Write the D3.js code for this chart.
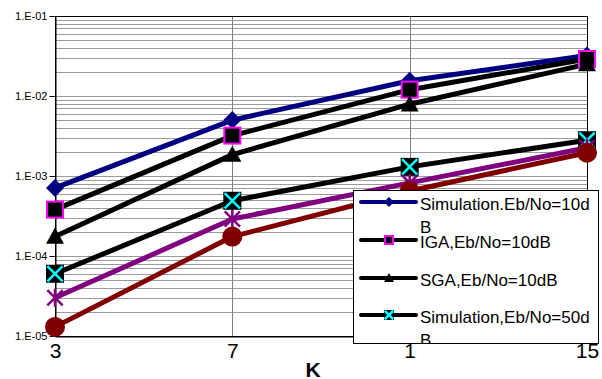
<!DOCTYPE html>
<html><head><meta charset="utf-8">
<script src="https://cdn.jsdelivr.net/npm/d3@7/dist/d3.min.js"></script>
<style>body{margin:0;background:#fff}svg{display:block;font-family:"Liberation Sans",Arial,sans-serif}</style>
</head><body><svg id="c" width="602" height="379"></svg>
<script>
const categories = ["3","7","1","15"];
const yTicks = [1e-5,1e-4,1e-3,1e-2,1e-1];
const simEb10 = [7.1e-4, 5.0e-3, 1.55e-2, 3.2e-2];
const igaEb10 = [3.8e-4, 3.2e-3, 1.2e-2, 2.9e-2];
const sgaEb10 = [1.75e-4, 1.85e-3, 7.9e-3, 2.5e-2];
const simEb50 = [6.0e-5, 4.9e-4, 1.3e-3, 2.8e-3];
const seriesE = [3.0e-5, 2.9e-4, 8.2e-4, 2.25e-3];
const seriesF = [1.3e-5, 1.75e-4, 6.5e-4, 1.95e-3];
const legendLabels = [["Simulation.Eb/No=10d","B"],["IGA,Eb/No=10dB"],["SGA,Eb/No=10dB"],["Simulation,Eb/No=50d","B"]];

const series = [
  {v:simEb10, color:"#000080", m:"diamond"},
  {v:igaEb10, color:"#000000", m:"squareM"},
  {v:sgaEb10, color:"#000000", m:"triangle"},
  {v:simEb50, color:"#000000", m:"xsq"},
  {v:seriesE, color:"#800080", m:"star"},
  {v:seriesF, color:"#800000", m:"circle"}
];

const svg = d3.select("#c");
const L=55,R=587,T=16,B=336;
const x = d3.scalePoint().domain(categories).range([L,R]);
const y = d3.scaleLog().domain([1e-5,1e-1]).range([B,T]);

// minor grid
const minor=[];
for(let e=-5;e<-1;e++){for(let k=2;k<=9;k++)minor.push(k*Math.pow(10,e));}
svg.append("g").selectAll("line").data(minor.concat(yTicks.slice(1,4))).join("line")
  .attr("x1",L).attr("x2",R).attr("y1",d=>Math.round(y(d))+0.5).attr("y2",d=>Math.round(y(d))+0.5)
  .attr("stroke","#9a9a9a").attr("stroke-width",1);
svg.append("g").selectAll("line").data(categories.slice(1,3)).join("line")
  .attr("x1",d=>Math.round(x(d))+0.5).attr("x2",d=>Math.round(x(d))+0.5).attr("y1",T).attr("y2",B)
  .attr("stroke","#808080");
svg.append("rect").attr("x",L+0.5).attr("y",T+0.5).attr("width",R-L).attr("height",B-T)
  .attr("fill","none").attr("stroke","#000");

// axes
const ya = svg.append("g").attr("transform",`translate(${L+0.5},0)`)
  .call(d3.axisLeft(y).tickValues(yTicks).tickSize(6).tickSizeOuter(0).tickPadding(2)
    .tickFormat(d=>"1.E-0"+Math.round(-Math.log10(d))));
ya.selectAll("text").attr("font-size",11).attr("fill","#000").attr("font-family","Liberation Sans, Arial");
ya.selectAll("line,path").attr("stroke","#000");
const xa = svg.append("g").attr("transform",`translate(0,${B+0.5})`)
  .call(d3.axisBottom(x).tickSize(0).tickSizeOuter(0).tickPadding(7));
xa.selectAll("text").attr("font-size",21).attr("fill","#000").attr("font-family","Liberation Sans, Arial");
xa.select("path").attr("stroke","#000");
svg.append("text").attr("x",313).attr("y",377).attr("text-anchor","middle")
  .attr("font-size",21).attr("font-weight","bold").text("K");

function marker(g, type, color, s){
  if(type==="diamond"){
    g.append("path").attr("d",`M0,${-s}L${s},0L0,${s}L${-s},0Z`).attr("fill",color);
  } else if(type==="squareM"){
    g.append("rect").attr("x",-s+1).attr("y",-s+1).attr("width",2*s-2).attr("height",2*s-2)
      .attr("fill","#000").attr("stroke","#ff00ff").attr("stroke-width",2);
  } else if(type==="triangle"){
    g.append("path").attr("d",`M0,${-s}L${s},${s*0.8}L${-s},${s*0.8}Z`).attr("fill","#000");
  } else if(type==="xsq"){
    g.append("rect").attr("x",-s).attr("y",-s).attr("width",2*s).attr("height",2*s).attr("fill","#000");
    const a=s*0.85;
    g.append("path").attr("d",`M${-a},${-a}L${a},${a}M${a},${-a}L${-a},${a}`).attr("stroke","#00ffff").attr("stroke-width",2.5);
  } else if(type==="star"){
    const a=s*0.85;
    g.append("path").attr("d",`M${-a},${-a}L${a},${a}M${a},${-a}L${-a},${a}M0,${-s}L0,${s}`).attr("stroke",color).attr("stroke-width",2.5);
  } else if(type==="circle"){
    g.append("circle").attr("r",s).attr("fill",color);
  }
}

const line = d3.line().x((d,i)=>x(categories[i])).y(d=>y(d));
series.forEach(sr=>{
  svg.append("path").datum(sr.v).attr("d",line).attr("fill","none")
    .attr("stroke",sr.color).attr("stroke-width",5).attr("stroke-linejoin","round");
});
series.forEach(sr=>{
  sr.v.forEach((v,i)=>{
    const g=svg.append("g").attr("transform",`translate(${x(categories[i])},${y(v)})`);
    marker(g, sr.m, sr.color, sr.m==="diamond"?9:(sr.m==="circle"?10:9));
  });
});

// legend
const lx=353.5, ly=190.5, lw=245, lh=153;
svg.append("clipPath").attr("id","lc").append("rect").attr("x",lx).attr("y",ly).attr("width",lw).attr("height",lh);
const lg = svg.append("g");
lg.append("rect").attr("x",lx).attr("y",ly).attr("width",lw).attr("height",lh).attr("fill","#fff").attr("stroke","none");
const inner = lg.append("g").attr("clip-path","url(#lc)");
const ys=[202,240,278,315];
legendLabels.forEach((lab,i)=>{
  const sr=series[i];
  inner.append("line").attr("x1",361).attr("x2",416).attr("y1",ys[i]).attr("y2",ys[i])
    .attr("stroke",sr.color).attr("stroke-width",4).attr("stroke-linecap","round");
  const g=inner.append("g").attr("transform",`translate(389,${ys[i]})`);
  marker(g, sr.m, sr.color, 5);
  lab.forEach((t,j)=>{
    inner.append("text").attr("x",420).attr("y",ys[i]+8+j*23).attr("font-size",17).text(t);
  });
});
lg.append("rect").attr("x",lx).attr("y",ly).attr("width",lw).attr("height",lh).attr("fill","none").attr("stroke","#000");
</script></body></html>
